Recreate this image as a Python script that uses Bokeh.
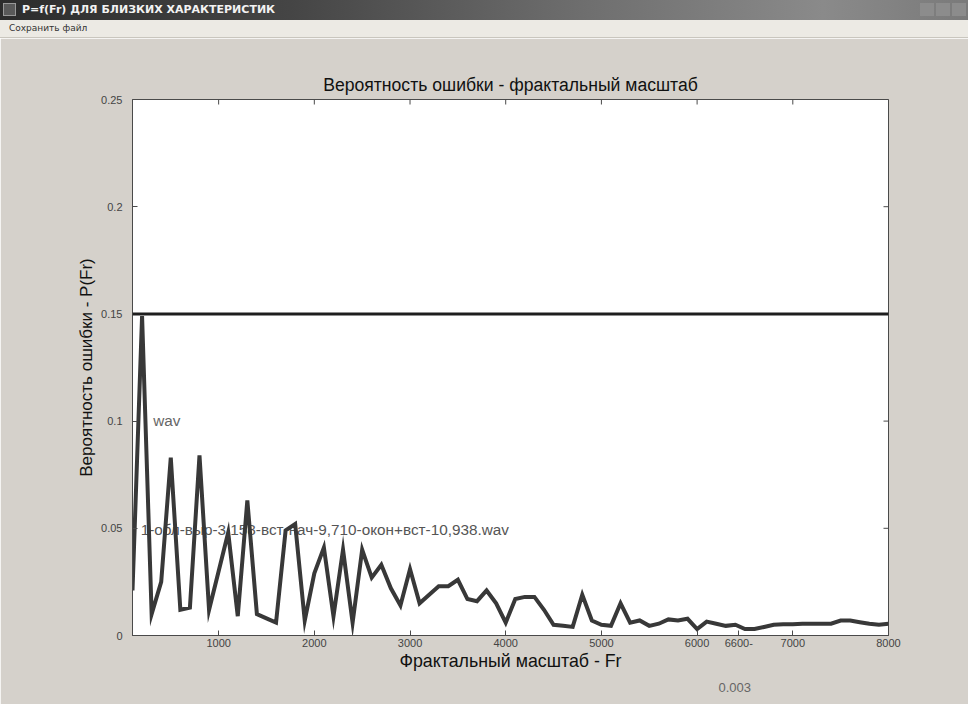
import math
from bokeh.plotting import figure
from bokeh.models import Range1d, Span, Label, Title, FixedTicker, Div
from bokeh.layouts import column
from bokeh.embed import file_html
from bokeh.resources import INLINE

# ---------------- data ----------------
window_title = "P=f(Fr) ДЛЯ БЛИЗКИХ ХАРАКТЕРИСТИК"
menu_item = "Сохранить файл"
chart_title = "Вероятность ошибки - фрактальный масштаб"
x_label = "Фрактальный масштаб - Fr"
y_label = "Вероятность ошибки - P(Fr)"

fr = [100, 200, 300, 400, 500, 600, 700, 800, 900, 1000,
      1100, 1200, 1300, 1400, 1500, 1600, 1700, 1800, 1900, 2000,
      2100, 2200, 2300, 2400, 2500, 2600, 2700, 2800, 2900, 3000,
      3100, 3200, 3300, 3400, 3500, 3600, 3700, 3800, 3900, 4000,
      4100, 4200, 4300, 4400, 4500, 4600, 4700, 4800, 4900, 5000,
      5100, 5200, 5300, 5400, 5500, 5600, 5700, 5800, 5900, 6000,
      6100, 6200, 6300, 6400, 6500, 6600, 6700, 6800, 6900, 7000,
      7100, 7200, 7300, 7400, 7500, 7600, 7700, 7800, 7900, 8000]
p_err = [0.021, 0.149, 0.010, 0.025, 0.083, 0.012, 0.013, 0.084, 0.012, 0.030,
         0.048, 0.009, 0.063, 0.010, 0.008, 0.006, 0.049, 0.052, 0.007, 0.029,
         0.041, 0.009, 0.040, 0.006, 0.040, 0.027, 0.033, 0.022, 0.014, 0.031,
         0.015, 0.019, 0.023, 0.023, 0.026, 0.017, 0.016, 0.021, 0.015, 0.006,
         0.017, 0.018, 0.018, 0.012, 0.005, 0.0045, 0.004, 0.019, 0.007, 0.005,
         0.0045, 0.015, 0.006, 0.007, 0.0045, 0.0055, 0.0075, 0.007, 0.0078, 0.003,
         0.0065, 0.0055, 0.0045, 0.005, 0.003, 0.003, 0.004, 0.005, 0.0052, 0.0052,
         0.0055, 0.0055, 0.0055, 0.0055, 0.007, 0.007, 0.0062, 0.0055, 0.005, 0.0055]
threshold = 0.15

x_min, x_max = 100, 8000
y_min, y_max = 0, 0.25
x_ticks = [1000, 2000, 3000, 4000, 5000, 6000, 7000, 8000]
x_tick_labels = ["1000", "2000", "3000", "4000", "5000", "6000", "7000", "8000"]
y_ticks = [0, 0.05, 0.1, 0.15, 0.2, 0.25]
y_tick_labels = ["0", "0.05", "0.1", "0.15", "0.2", "0.25"]

file_label = "1-обл-выр-3,158-вст-нач-9,710-окон+вст-10,938.wav"
file_label_pos = (185, 0.0494)
wav_label = "wav"
wav_label_pos = (317, 0.1005)
tip_x_text = "6600-"      # data-tip x reading, sits in the tick-label row
tip_x_at = 6436
tip_y_text = "0.003"      # data-tip y reading, below the axis title

# ---------------- styling ----------------
FONT = "Liberation Sans"
BG = "#d5d1cb"
W = 968
H_TITLEBAR = 20
H_MENU = 18
H_FIG = 666

title_bar = Div(
    text=(
        f'<div style="width:{W}px;height:{H_TITLEBAR}px;overflow:hidden;position:relative;'
        'background:linear-gradient(to right,#2c2c2c 0%,#454545 30%,#6e6e6e 60%,#8a8a8a 85%,#7a7a7a 100%);'
        'color:#f2f2f2;font:bold 11px \'DejaVu Sans\';line-height:20px;white-space:nowrap;">'
        '<span style="display:inline-block;width:13px;height:13px;background:#5a5a5a;'
        'border:1px solid #999;margin:3px 6px 0 3px;vertical-align:top;box-sizing:border-box;"></span>'
        + window_title +
        '<span style="position:absolute;right:2px;top:3px;">'
        '<span style="display:inline-block;width:14px;height:13px;background:#8c8c8c;margin-left:2px;"></span>'
        '<span style="display:inline-block;width:14px;height:13px;background:#8c8c8c;margin-left:2px;"></span>'
        '<span style="display:inline-block;width:14px;height:13px;background:#8c8c8c;margin-left:2px;"></span>'
        '</span></div>'
    ),
    width=W, height=H_TITLEBAR, margin=(0, 0, 0, 0),
)
menu_bar = Div(
    text=(
        f'<div style="width:{W}px;height:{H_MENU}px;overflow:hidden;background:#eceae4;'
        'border-bottom:1px solid #c9c6be;box-sizing:border-box;'
        'color:#333;font:9px \'DejaVu Sans\';line-height:17px;padding-left:9px;white-space:nowrap;">'
        + menu_item + '</div>'
    ),
    width=W, height=H_MENU, margin=(0, 0, 0, 0),
)

p = figure(
    width=W, height=H_FIG,
    x_range=Range1d(x_min, x_max), y_range=Range1d(y_min, y_max),
    output_backend="svg", toolbar_location=None,
    min_border_left=132, min_border_right=80,
    min_border_top=61, min_border_bottom=69,
    background_fill_color="white", border_fill_color=BG,
    outline_line_color="#4a4a4a", outline_line_width=1,
)
p.xgrid.visible = False
p.ygrid.visible = False

p.title.text = chart_title
p.title.align = "center"
p.title.text_font = FONT
p.title.text_font_size = "17.6px"
p.title.text_font_style = "normal"
p.title.text_color = "#111"
p.title.standoff = 10

for ax in (p.xaxis[0], p.yaxis[0]):
    ax.major_tick_in = 5
    ax.major_tick_out = 0
    ax.minor_tick_in = 0
    ax.minor_tick_out = 0
    ax.axis_line_color = "#4a4a4a"
    ax.major_tick_line_color = "#4a4a4a"
    ax.major_label_text_font = FONT
    ax.major_label_text_font_size = "11px"
    ax.major_label_text_color = "#444"
    ax.axis_label_text_font = FONT
    ax.axis_label_text_font_size = "17px"
    ax.axis_label_text_font_style = "normal"
    ax.axis_label_text_color = "#111"

xa = p.xaxis[0]
xa.ticker = FixedTicker(ticks=x_ticks + [tip_x_at])
overrides = dict(zip(x_ticks, x_tick_labels))
overrides[tip_x_at] = tip_x_text
xa.major_label_overrides = overrides
xa.axis_label = x_label
xa.axis_label_text_font_size = "17.8px"
xa.major_label_standoff = 3
xa.axis_label_standoff = 1

ya = p.yaxis[0]
ya.ticker = FixedTicker(ticks=y_ticks)
ya.major_label_overrides = dict(zip(y_ticks, y_tick_labels))
ya.axis_label = y_label
ya.major_label_standoff = 10
ya.axis_label_standoff = 2

# mirrored tick marks on top and right edges (box on); half of each dash is clipped by the frame
p.scatter(x_ticks, [y_max] * len(x_ticks), marker="dash", size=10, angle=math.pi / 2,
          line_color="#4a4a4a", line_width=1)
p.scatter([x_max] * len(y_ticks), y_ticks, marker="dash", size=10,
          line_color="#4a4a4a", line_width=1)

# text labels drawn under the curve
p.add_layout(Label(x=file_label_pos[0], y=file_label_pos[1], text=file_label,
                   text_baseline="middle", text_font=FONT, text_font_size="15.3px",
                   text_color="#555", level="underlay"))
p.add_layout(Label(x=wav_label_pos[0], y=wav_label_pos[1], text=wav_label,
                   text_baseline="middle", text_font=FONT, text_font_size="15.3px",
                   text_color="#666", level="underlay"))

# threshold line and curve
p.add_layout(Span(location=threshold, dimension="width", line_color="#1e1e1e", line_width=3))
p.line(fr, p_err, line_color="#383838", line_width=4, line_join="miter")

# data-tip y reading below the axis title
p.add_layout(Title(text=tip_y_text, align="left", offset=586, standoff=14,
                   text_font=FONT, text_font_size="13px", text_font_style="normal",
                   text_color="#666"), "below")

layout = column(title_bar, menu_bar, p, spacing=0)

open("out.html", "w").write(file_html(layout, INLINE, "P=f(Fr)"))
